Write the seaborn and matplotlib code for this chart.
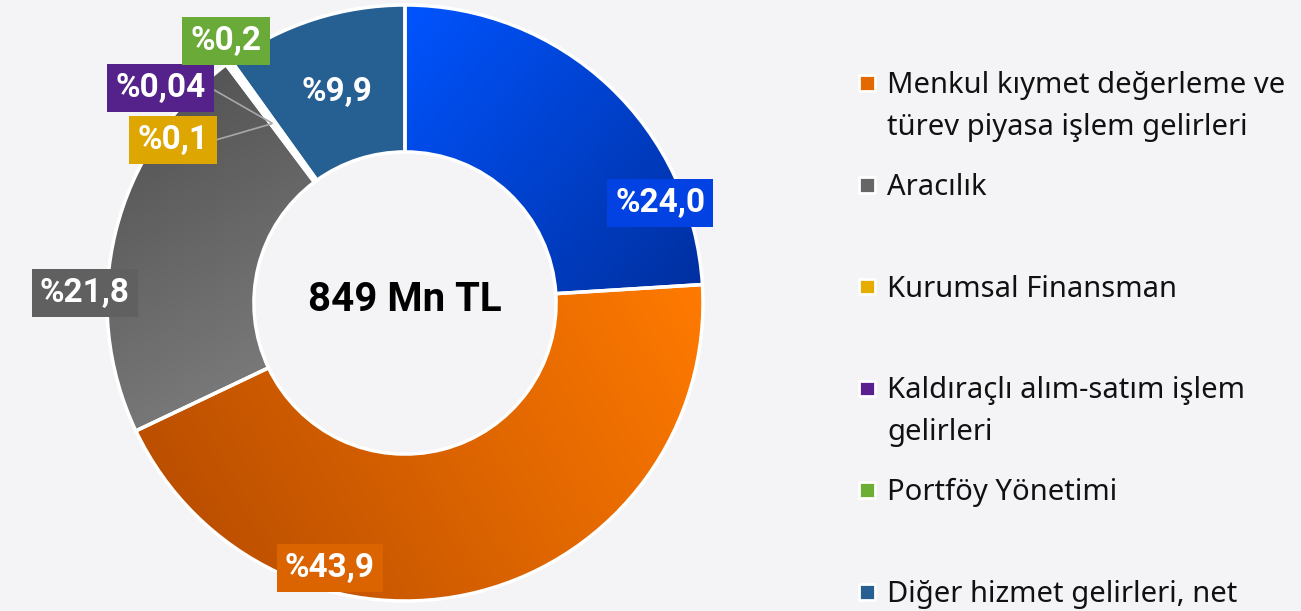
import matplotlib.pyplot as plt
import seaborn as sns
import numpy as np
from matplotlib.colors import LinearSegmentedColormap

# chart data
slice_values = [24.0, 43.9, 21.8, 0.1, 0.04, 0.2, 9.9]
slice_labels = ["%24,0", "%43,9", "%21,8", "%0,1", "%0,04", "%0,2", "%9,9"]
slice_colors = ["#0542E4", "#E36800", "#666666", "#E6AC00", "#5A208F", "#6CAF34", "#265F92"]
legend_labels = ["Menkul kıymet değerleme ve\ntürev piyasa işlem gelirleri", "Aracılık",
                 "Kurumsal Finansman", "Kaldıraçlı alım-satım işlem\ngelirleri",
                 "Portföy Yönetimi", "Diğer hizmet gelirleri, net"]
legend_colors = slice_colors[1:]
total_text = "849 Mn TL"

# styling: gradient per slice (light end, dark end, direction in degrees), None = flat
slice_gradients = [("#0054FF", "#0030A0", -40), ("#FF7A00", "#BB4F00", -150),
                   ("#555555", "#7A7A7A", -60), None, None, None, None]
box_colors = ["#0342E2", "#DB6400", "#606060", "#DDA600", "#55218A", "#6AAA38", None]

# layout (label positions in pie units, radius = 1)
label_pos = [(0.856, 0.336), (-0.252, -0.889), (-1.074, 0.034), (-0.779, 0.547),
             (-0.819, 0.721), (-0.601, 0.879), (-0.228, 0.708)]
leader_arm = [None, None, None, 43, 50, None, None]

bg = "#F4F4F7"
sns.set_theme(style="white")
plt.rcParams['font.family'] = ['Noto Sans', 'DejaVu Sans']
bold_font = ['Roboto', 'DejaVu Sans']

fig = plt.figure(figsize=(13.01, 6.11), dpi=100, facecolor=bg)

# overlay axes in pixel units for the legend
lax = fig.add_axes([0, 0, 1, 1])
lax.set_xlim(0, 1301)
lax.set_ylim(611, 0)
lax.axis('off')
lax.patch.set_alpha(0)

baselines = [93 + 101.8 * i for i in range(len(legend_labels))]
sns.scatterplot(x=[867] * len(legend_labels), y=[b - 10 for b in baselines],
                hue=legend_labels, palette=dict(zip(legend_labels, legend_colors)),
                marker='s', s=125, edgecolor='white', linewidth=2, legend=False, ax=lax)
for lab, b in zip(legend_labels, baselines):
    for k, line in enumerate(lab.split("\n")):
        lax.text(887, b + 42 * k, line, fontsize=21, color='#111111',
                 va='baseline', ha='left')

# donut
ax = fig.add_axes([105 / 1301, 8 / 611, 600 / 1301, 600 / 611])
wedges, _ = ax.pie(slice_values, colors=slice_colors, startangle=90, counterclock=False,
                   radius=1, wedgeprops=dict(width=0.493, linewidth=0))

# gradient fills clipped to the wedges
xs = np.linspace(-1, 1, 400)
X, Y = np.meshgrid(xs, xs[::-1])
for w, grad in zip(wedges, slice_gradients):
    if grad is None:
        continue
    c0, c1, deg = grad
    d = np.deg2rad(deg)
    T = X * np.cos(d) + Y * np.sin(d)
    verts = w.get_path().vertices
    proj = verts[:, 0] * np.cos(d) + verts[:, 1] * np.sin(d)
    im = ax.imshow(T, cmap=LinearSegmentedColormap.from_list('g', [c0, c1]),
                   vmin=proj.min(), vmax=proj.max(), extent=(-1, 1, -1, 1),
                   interpolation='bilinear', zorder=1.5)
    im.set_clip_path(w)

# white separators on top
ax.pie(slice_values, startangle=90, counterclock=False, radius=1,
       wedgeprops=dict(width=0.493, fill=False, edgecolor='white', linewidth=2.5, zorder=2))

lim = 300 / 298
ax.set_xlim(-lim, lim)
ax.set_ylim(-lim, lim)
ax.set_aspect('equal')
ax.axis('off')

for w, lab, col, pos, arm in zip(wedges, slice_labels, box_colors, label_pos, leader_arm):
    box = dict(boxstyle='square,pad=0.25', fc=col, ec='none') if col else None
    if arm is None:
        ax.text(pos[0], pos[1], lab, fontsize=24, fontweight='bold', color='white',
                family=bold_font, ha='center', va='center', bbox=box, zorder=5)
    else:
        ang = np.deg2rad((w.theta1 + w.theta2) / 2)
        ax.annotate(lab, xy=(0.75 * np.cos(ang), 0.75 * np.sin(ang)), xytext=pos,
                    fontsize=24, fontweight='bold', color='white', family=bold_font,
                    ha='center', va='center', bbox=box, zorder=5,
                    arrowprops=dict(arrowstyle='-', color='#A8A8A8', lw=1.2,
                                    connectionstyle='arc,angleA=0,armA=%d,angleB=0,armB=0,rad=0' % arm,
                                    shrinkA=0, shrinkB=0))

ax.text(0, 0.01, total_text, fontsize=29, fontweight='bold', color='black',
        family=bold_font, ha='center', va='center')

fig.savefig("out.png", dpi=100, facecolor=bg)
